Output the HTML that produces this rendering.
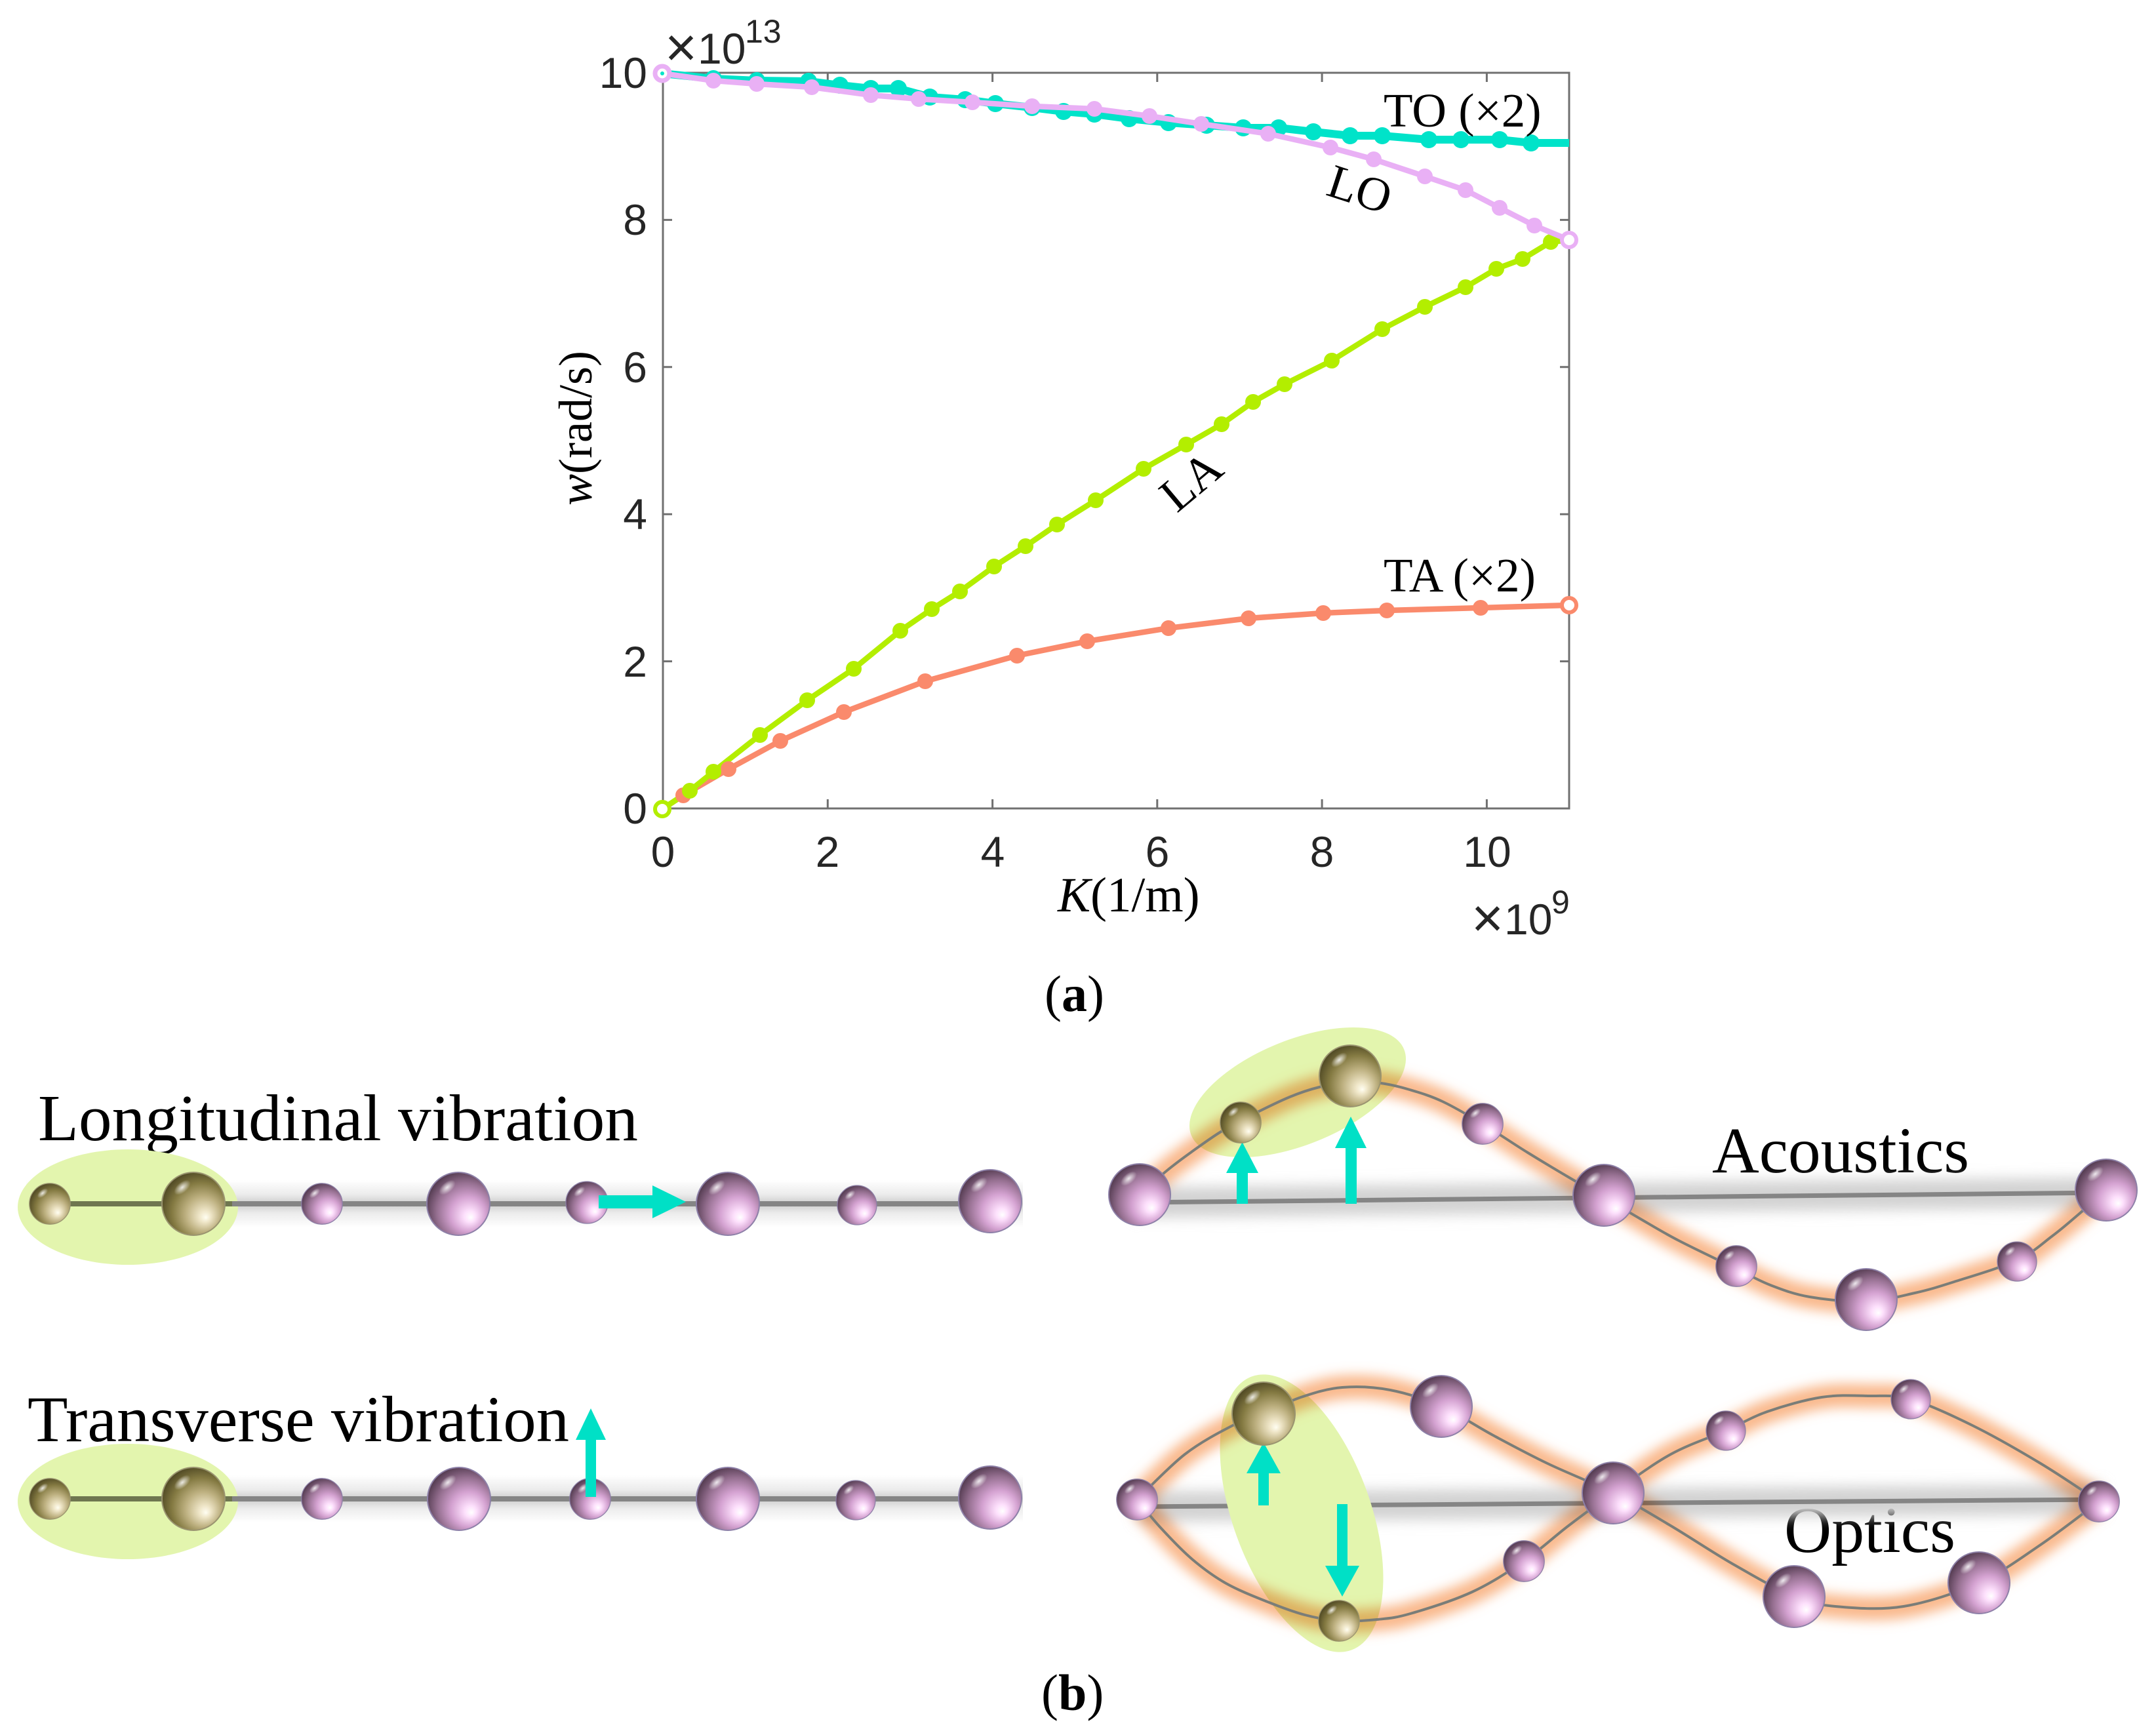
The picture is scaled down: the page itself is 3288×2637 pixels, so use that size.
<!DOCTYPE html>
<html>
<head>
<meta charset="utf-8">
<style>
html,body{margin:0;padding:0;background:#fff;}
svg{display:block;}
</style>
</head>
<body>
<svg id="fig" width="3288" height="2637" viewBox="0 0 3288 2637">
<defs>
  <radialGradient id="pk" cx="0.6" cy="0.6" r="0.62" fx="0.7" fy="0.72">
    <stop offset="0" stop-color="#ffffff"/>
    <stop offset="0.15" stop-color="#fde0fc"/>
    <stop offset="0.45" stop-color="#d4a2d1"/>
    <stop offset="0.75" stop-color="#967091"/>
    <stop offset="1" stop-color="#573e54"/>
  </radialGradient>
  <radialGradient id="gd" cx="0.6" cy="0.6" r="0.62" fx="0.7" fy="0.72">
    <stop offset="0" stop-color="#fffef2"/>
    <stop offset="0.15" stop-color="#efe6c8"/>
    <stop offset="0.45" stop-color="#bdb080"/>
    <stop offset="0.75" stop-color="#847a42"/>
    <stop offset="1" stop-color="#534c26"/>
  </radialGradient>
  <radialGradient id="sp" cx="0.5" cy="0.5" r="0.5">
    <stop offset="0" stop-color="#ffffff" stop-opacity="0.85"/>
    <stop offset="1" stop-color="#ffffff" stop-opacity="0"/>
  </radialGradient>
  <linearGradient id="band" x1="0" y1="0" x2="0" y2="1">
    <stop offset="0" stop-color="#ffffff"/>
    <stop offset="0.3" stop-color="#ececec"/>
    <stop offset="0.5" stop-color="#cdcdcd"/>
    <stop offset="0.7" stop-color="#ececec"/>
    <stop offset="1" stop-color="#ffffff"/>
  </linearGradient>
  <filter id="gl" filterUnits="userSpaceOnUse" x="0" y="0" width="3288" height="2637">
    <feGaussianBlur stdDeviation="9"/>
  </filter>
  <filter id="bb" filterUnits="userSpaceOnUse" x="0" y="0" width="3288" height="2637">
    <feGaussianBlur stdDeviation="10"/>
  </filter>
  <g id="P">
    <circle r="48" fill="url(#pk)" stroke="#8d80a8" stroke-width="2"/>
    <ellipse cx="-17" cy="-25" rx="15" ry="8" transform="rotate(-40 -17 -25)" fill="url(#sp)"/>
  </g>
  <g id="G">
    <circle r="48" fill="url(#gd)" stroke="#9a9470" stroke-width="2"/>
    <ellipse cx="-17" cy="-25" rx="15" ry="8" transform="rotate(-40 -17 -25)" fill="url(#sp)"/>
  </g>
</defs>

<rect width="3288" height="2637" fill="#ffffff"/>

<!-- ================= PLOT (a) ================= -->
<g stroke="#707070" stroke-width="3" fill="none">
  <rect x="1011" y="111" width="1382" height="1122"/>
  <path d="M1262.3 1233v-14M1513.6 1233v-14M1764.8 1233v-14M2016.1 1233v-14M2267.4 1233v-14
           M1262.3 111v14M1513.6 111v14M1764.8 111v14M2016.1 111v14M2267.4 111v14"/>
  <path d="M1011 1008.6h14M1011 784.2h14M1011 559.8h14M1011 335.4h14
           M2393 1008.6h-14M2393 784.2h-14M2393 559.8h-14M2393 335.4h-14"/>
</g>

<g font-family="'Liberation Sans', Arial, sans-serif" font-size="66" fill="#262626">
  <g text-anchor="end">
    <text x="987" y="1256">0</text>
    <text x="987" y="1032">2</text>
    <text x="987" y="807">4</text>
    <text x="987" y="583">6</text>
    <text x="987" y="358">8</text>
    <text x="987" y="134">10</text>
  </g>
  <g text-anchor="middle">
    <text x="1011" y="1322">0</text>
    <text x="1262" y="1322">2</text>
    <text x="1514" y="1322">4</text>
    <text x="1765" y="1322">6</text>
    <text x="2016" y="1322">8</text>
    <text x="2268" y="1322">10</text>
  </g>
  <text x="1014" y="101" font-size="84">×</text>
  <text x="1064" y="97">10</text>
  <text x="1136" y="65" font-size="50">13</text>
  <text x="2244" y="1429" font-size="84">×</text>
  <text x="2294" y="1425">10</text>
  <text x="2366" y="1393" font-size="50">9</text>
</g>

<!-- series -->
<g fill="none" stroke-linejoin="round" stroke-linecap="round">
  <polyline stroke="#fa8a6c" stroke-width="8.5" points="1010,1234 1042,1213 1111,1173 1190,1130 1287,1086 1411,1039 1551,1000 1658,978 1782,958 1904,943 2018,935 2115,931 2258,927 2393,923"/>
  <polyline stroke="#b3ee00" stroke-width="8.5" points="1010,1234 1052,1206 1088,1177 1159,1121 1231,1068 1302,1020 1373,962 1421,929 1464,902 1516,864 1564,833 1612,800 1671,763 1744,715 1809,678 1863,647 1911,613 1959,586 2031,550 2108,502 2173,468 2235,438 2282,410 2322,395 2365,369 2393,366"/>
</g>
<g fill="#fa8a6c">
  <circle cx="1042" cy="1213" r="12"/><circle cx="1111" cy="1173" r="12"/><circle cx="1190" cy="1130" r="12"/>
  <circle cx="1287" cy="1086" r="12"/><circle cx="1411" cy="1039" r="12"/><circle cx="1551" cy="1000" r="12"/>
  <circle cx="1658" cy="978" r="12"/><circle cx="1782" cy="958" r="12"/><circle cx="1904" cy="943" r="12"/>
  <circle cx="2018" cy="935" r="12"/><circle cx="2115" cy="931" r="12"/><circle cx="2258" cy="927" r="12"/>
</g>
<circle cx="2393" cy="923" r="11" fill="#fff" stroke="#fa8a6c" stroke-width="6"/>
<g fill="#b3ee00">
  <circle cx="1052" cy="1206" r="12"/><circle cx="1088" cy="1177" r="12"/><circle cx="1159" cy="1121" r="12"/>
  <circle cx="1231" cy="1068" r="12"/><circle cx="1302" cy="1020" r="12"/><circle cx="1373" cy="962" r="12"/>
  <circle cx="1421" cy="929" r="12"/><circle cx="1464" cy="902" r="12"/><circle cx="1516" cy="864" r="12"/>
  <circle cx="1564" cy="833" r="12"/><circle cx="1612" cy="800" r="12"/><circle cx="1671" cy="763" r="12"/>
  <circle cx="1744" cy="715" r="12"/><circle cx="1809" cy="678" r="12"/><circle cx="1863" cy="647" r="12"/>
  <circle cx="1911" cy="613" r="12"/><circle cx="1959" cy="586" r="12"/><circle cx="2031" cy="550" r="12"/>
  <circle cx="2108" cy="502" r="12"/><circle cx="2173" cy="468" r="12"/><circle cx="2235" cy="438" r="12"/>
  <circle cx="2282" cy="410" r="12"/><circle cx="2322" cy="395" r="12"/><circle cx="2365" cy="369" r="12"/>
</g>
<circle cx="1010" cy="1234" r="11" fill="#fff" stroke="#b3ee00" stroke-width="6"/>

<!-- TO -->
<polyline fill="none" stroke="#00e3c9" stroke-width="12" stroke-linejoin="round" points="1010,112 1088,120 1154,123 1233,124 1281,130 1328,135 1370,135 1418,148 1472,152 1518,158 1574,164 1622,170 1669,174 1722,181 1782,187 1840,191 1896,195 1950,195 2003,201 2059,207 2108,207 2179,213 2228,213 2287,213 2335,218 2393,218"/>
<g fill="#00e3c9">
  <circle cx="1088" cy="120" r="13"/><circle cx="1154" cy="123" r="13"/><circle cx="1233" cy="124" r="13"/>
  <circle cx="1281" cy="130" r="13"/><circle cx="1328" cy="135" r="13"/><circle cx="1370" cy="135" r="13"/>
  <circle cx="1418" cy="148" r="13"/><circle cx="1472" cy="152" r="13"/><circle cx="1518" cy="158" r="13"/>
  <circle cx="1574" cy="164" r="13"/><circle cx="1622" cy="170" r="13"/><circle cx="1669" cy="174" r="13"/>
  <circle cx="1722" cy="181" r="13"/><circle cx="1782" cy="187" r="13"/><circle cx="1840" cy="191" r="13"/>
  <circle cx="1896" cy="195" r="13"/><circle cx="1950" cy="195" r="13"/><circle cx="2003" cy="201" r="13"/>
  <circle cx="2059" cy="207" r="13"/><circle cx="2108" cy="207" r="13"/><circle cx="2179" cy="213" r="13"/>
  <circle cx="2228" cy="213" r="13"/><circle cx="2287" cy="213" r="13"/><circle cx="2335" cy="218" r="13"/>
</g>

<!-- LO -->
<polyline fill="none" stroke="#e9b0f5" stroke-width="8.5" stroke-linejoin="round" points="1010,112 1088,123 1154,128 1238,133 1328,145 1401,151 1483,156 1574,162 1669,166 1753,177 1832,189 1934,204 2029,225 2095,243 2173,269 2235,290 2287,317 2340,344 2393,366"/>
<g fill="#e9b0f5">
  <circle cx="1088" cy="123" r="12"/><circle cx="1154" cy="128" r="12"/><circle cx="1238" cy="133" r="12"/>
  <circle cx="1328" cy="145" r="12"/><circle cx="1401" cy="151" r="12"/><circle cx="1483" cy="156" r="12"/>
  <circle cx="1574" cy="162" r="12"/><circle cx="1669" cy="166" r="12"/><circle cx="1753" cy="177" r="12"/>
  <circle cx="1832" cy="189" r="12"/><circle cx="1934" cy="204" r="12"/><circle cx="2029" cy="225" r="12"/>
  <circle cx="2095" cy="243" r="12"/><circle cx="2173" cy="269" r="12"/><circle cx="2235" cy="290" r="12"/>
  <circle cx="2287" cy="317" r="12"/><circle cx="2340" cy="344" r="12"/>
</g>
<circle cx="1010" cy="112" r="11" fill="#fff" stroke="#e9b0f5" stroke-width="7"/>
<circle cx="1010" cy="112" r="3" fill="#00e3c9"/>
<circle cx="2393" cy="366" r="11" fill="#fff" stroke="#e9b0f5" stroke-width="6"/>

<!-- plot annotations -->
<g font-family="'Liberation Serif', 'Times New Roman', serif" font-size="73" fill="#000">
  <text x="2110" y="193">TO (×2)</text>
  <text x="2110" y="902">TA (×2)</text>
  <text x="0" y="25" text-anchor="middle" transform="translate(2074,288) rotate(18)">LO</text>
  <text x="0" y="25" text-anchor="middle" transform="translate(1816,733) rotate(-40)">LA</text>
  <text x="0" y="0" text-anchor="middle" font-size="72" transform="translate(902,653) rotate(-90)"><tspan font-style="italic">w</tspan>(rad/s)</text>
  <text x="1613" y="1390" font-size="75"><tspan font-style="italic">K</tspan>(1/m)</text>
  <text x="1593" y="1542" font-size="78">(<tspan font-weight="bold">a</tspan>)</text>
  <text x="1588" y="2608" font-size="78">(<tspan font-weight="bold">b</tspan>)</text>
</g>

<!-- ================= PANEL (b) ================= -->
<g font-family="'Liberation Serif', 'Times New Roman', serif" fill="#000" font-size="101">
  <text x="58" y="1739" textLength="915" lengthAdjust="spacingAndGlyphs">Longitudinal vibration</text>
  <text x="42" y="2198" textLength="826" lengthAdjust="spacingAndGlyphs" font-size="100">Transverse vibration</text>
  <text x="2611" y="1788" textLength="392" lengthAdjust="spacingAndGlyphs" font-size="100">Acoustics</text>
  <text x="2721" y="2367" textLength="261" lengthAdjust="spacingAndGlyphs" font-size="100">Optics</text>
</g>

<!-- Longitudinal chain -->
<rect x="40" y="1800" width="1520" height="72" fill="url(#band)"/>
<ellipse cx="195" cy="1841" rx="168" ry="88" fill="#e3f5ae"/>
<rect x="74" y="1832" width="1440" height="8" fill="#858585"/>
<rect x="74" y="1832" width="280" height="8" fill="#6f7650"/>
<use href="#G" transform="translate(76,1836) scale(0.65)"/>
<use href="#G" transform="translate(295,1836)"/>
<use href="#P" transform="translate(491,1836) scale(0.65)"/>
<use href="#P" transform="translate(699,1836)"/>
<use href="#P" transform="translate(895,1834) scale(0.667)"/>
<use href="#P" transform="translate(1110,1836)"/>
<use href="#P" transform="translate(1307,1838) scale(0.625)"/>
<use href="#P" transform="translate(1510,1832)"/>
<polygon fill="#00e0c6" points="913,1823 995,1823 995,1808 1046,1833 995,1858 995,1843 913,1843"/>

<!-- Transverse chain -->
<rect x="40" y="2250" width="1520" height="72" fill="url(#band)"/>
<ellipse cx="195" cy="2290" rx="168" ry="88" fill="#e3f5ae"/>
<rect x="74" y="2282" width="1440" height="8" fill="#858585"/>
<rect x="74" y="2282" width="280" height="8" fill="#6f7650"/>
<use href="#G" transform="translate(76,2286) scale(0.65)"/>
<use href="#G" transform="translate(295,2286)"/>
<use href="#P" transform="translate(491,2286) scale(0.65)"/>
<use href="#P" transform="translate(700,2286)"/>
<use href="#P" transform="translate(900,2286) scale(0.65)"/>
<use href="#P" transform="translate(1110,2286)"/>
<use href="#P" transform="translate(1305,2288) scale(0.625)"/>
<use href="#P" transform="translate(1510,2284)"/>
<polygon fill="#00e0c6" points="893,2283 893,2196 878,2196 901,2148 924,2196 909,2196 909,2283"/>

<!-- Acoustics -->
<line x1="1734" y1="1834" x2="3212" y2="1819" stroke="#d2d2d2" stroke-width="46" filter="url(#bb)"/>
<line x1="1734" y1="1834" x2="3212" y2="1819" stroke="#858585" stroke-width="7"/>
<ellipse cx="1979" cy="1666" rx="175" ry="80" transform="rotate(-22 1979 1666)" fill="#e3f5ae"/>
<polyline class="sm" fill="none" stroke="#f8a870" stroke-width="36" stroke-opacity="0.8" filter="url(#gl)" style="mix-blend-mode:multiply" stroke-linejoin="round"
  points="1738,1822 1780,1785 1817,1757 1862,1726 1910,1700 1967,1673 2012,1658 2060,1650 2106,1652 2150,1662 2200,1680 2261,1714 2330,1758 2400,1800 2446,1826 2500,1858 2560,1892 2648,1935 2700,1960 2760,1978 2846,1985 2920,1972 2980,1955 3076,1922 3130,1885 3170,1852 3212,1815"/>
<polyline class="sm" fill="none" stroke="#7a7d78" stroke-width="4" stroke-linejoin="round"
  points="1738,1822 1780,1785 1817,1757 1862,1726 1910,1700 1967,1673 2012,1658 2060,1650 2106,1652 2150,1662 2200,1680 2261,1714 2330,1758 2400,1800 2446,1826 2500,1858 2560,1892 2648,1935 2700,1960 2760,1978 2846,1985 2920,1972 2980,1955 3076,1922 3130,1885 3170,1852 3212,1815"/>
<polygon fill="#00e0c6" points="1886,1836 1886,1789 1870,1789 1894.5,1742 1919,1789 1903,1789 1903,1836"/>
<polygon fill="#00e0c6" points="2052,1836 2052,1751 2036,1751 2060,1703 2084,1751 2069,1751 2069,1836"/>
<use href="#P" transform="translate(1738,1822) scale(0.98)"/>
<use href="#G" transform="translate(1892,1712) scale(0.65)"/>
<use href="#G" transform="translate(2059,1641) scale(0.98)"/>
<use href="#P" transform="translate(2261,1714) scale(0.65)"/>
<use href="#P" transform="translate(2446,1823) scale(0.98)"/>
<use href="#P" transform="translate(2648,1931) scale(0.65)"/>
<use href="#P" transform="translate(2846,1982) scale(0.98)"/>
<use href="#P" transform="translate(3076,1924) scale(0.625)"/>
<use href="#P" transform="translate(3212,1815) scale(0.98)"/>

<!-- Optics -->
<line x1="1734" y1="2298" x2="3206" y2="2287" stroke="#d2d2d2" stroke-width="46" filter="url(#bb)"/>
<line x1="1734" y1="2298" x2="3206" y2="2287" stroke="#858585" stroke-width="7"/>
<ellipse cx="1985" cy="2308" rx="105" ry="222" transform="rotate(-20 1985 2308)" fill="#e3f5ae"/>
<g fill="none" stroke="#f8a870" stroke-width="36" stroke-opacity="0.8" filter="url(#gl)" style="mix-blend-mode:multiply" stroke-linejoin="round">
  <polyline class="sm" points="1734,2287 1807,2218 1880,2174 1927,2156 1984,2131 2047,2116 2120,2120 2198,2145 2277,2189 2360,2232 2460,2277 2548,2327 2642,2385 2736,2435 2799,2450 2903,2450 3018,2414 3112,2356 3201,2290"/>
  <polyline class="sm" points="1734,2287 1770,2330 1818,2378 1870,2415 1933,2443 1990,2463 2042,2472 2100,2470 2151,2461 2245,2428 2324,2381 2392,2327 2460,2277 2548,2218 2632,2182 2695,2153 2778,2131 2851,2129 2914,2134 3008,2174 3112,2232 3201,2290"/>
</g>
<g fill="none" stroke="#7a7d78" stroke-width="4" stroke-linejoin="round">
  <polyline class="sm" points="1734,2287 1807,2218 1880,2174 1927,2156 1984,2131 2047,2116 2120,2120 2198,2145 2277,2189 2360,2232 2460,2277 2548,2327 2642,2385 2736,2435 2799,2450 2903,2450 3018,2414 3112,2356 3201,2290"/>
  <polyline class="sm" points="1734,2287 1770,2330 1818,2378 1870,2415 1933,2443 1990,2463 2042,2472 2100,2470 2151,2461 2245,2428 2324,2381 2392,2327 2460,2277 2548,2218 2632,2182 2695,2153 2778,2131 2851,2129 2914,2134 3008,2174 3112,2232 3201,2290"/>
</g>
<polygon fill="#00e0c6" points="1919,2296 1919,2247 1901,2247 1927,2200 1953,2247 1935,2247 1935,2296"/>
<polygon fill="#00e0c6" points="2039,2294 2055,2294 2055,2388 2073,2388 2047,2435 2021,2388 2039,2388"/>
<use href="#P" transform="translate(1734,2287) scale(0.65)"/>
<use href="#G" transform="translate(1927,2156)"/>
<use href="#P" transform="translate(2198,2145) scale(0.98)"/>
<use href="#P" transform="translate(2460,2277) scale(0.98)"/>
<use href="#P" transform="translate(2324,2381) scale(0.65)"/>
<use href="#G" transform="translate(2042,2472) scale(0.65)"/>
<use href="#P" transform="translate(2632,2182) scale(0.625)"/>
<use href="#P" transform="translate(2914,2134) scale(0.625)"/>
<use href="#P" transform="translate(2736,2435) scale(0.98)"/>
<use href="#P" transform="translate(3018,2414) scale(0.98)"/>
<use href="#P" transform="translate(3201,2290) scale(0.65)"/>

</svg>
<script>
(function(){
  try{
    var svg=document.getElementById('fig');
    var ns=svg.namespaceURI;
    var list=svg.querySelectorAll('polyline.sm');
    for(var k=0;k<list.length;k++){
      var pl=list[k];
      var pts=pl.getAttribute('points').trim().split(/\s+/).map(function(s){var a=s.split(',');return [+a[0],+a[1]];});
      var d='M'+pts[0][0]+' '+pts[0][1];
      for(var i=0;i<pts.length-1;i++){
        var p0=pts[i-1]||pts[i],p1=pts[i],p2=pts[i+1],p3=pts[i+2]||p2;
        var c1x=p1[0]+(p2[0]-p0[0])/6,c1y=p1[1]+(p2[1]-p0[1])/6;
        var c2x=p2[0]-(p3[0]-p1[0])/6,c2y=p2[1]-(p3[1]-p1[1])/6;
        d+=' C'+c1x.toFixed(1)+' '+c1y.toFixed(1)+' '+c2x.toFixed(1)+' '+c2y.toFixed(1)+' '+p2[0]+' '+p2[1];
      }
      var p=document.createElementNS(ns,'path');
      for(var j=0;j<pl.attributes.length;j++){
        var at=pl.attributes[j];
        if(at.name!=='points'&&at.name!=='class'){p.setAttribute(at.name,at.value);}
      }
      p.setAttribute('d',d);
      pl.parentNode.replaceChild(p,pl);
    }
  }catch(e){}
})();
</script>
</body>
</html>
